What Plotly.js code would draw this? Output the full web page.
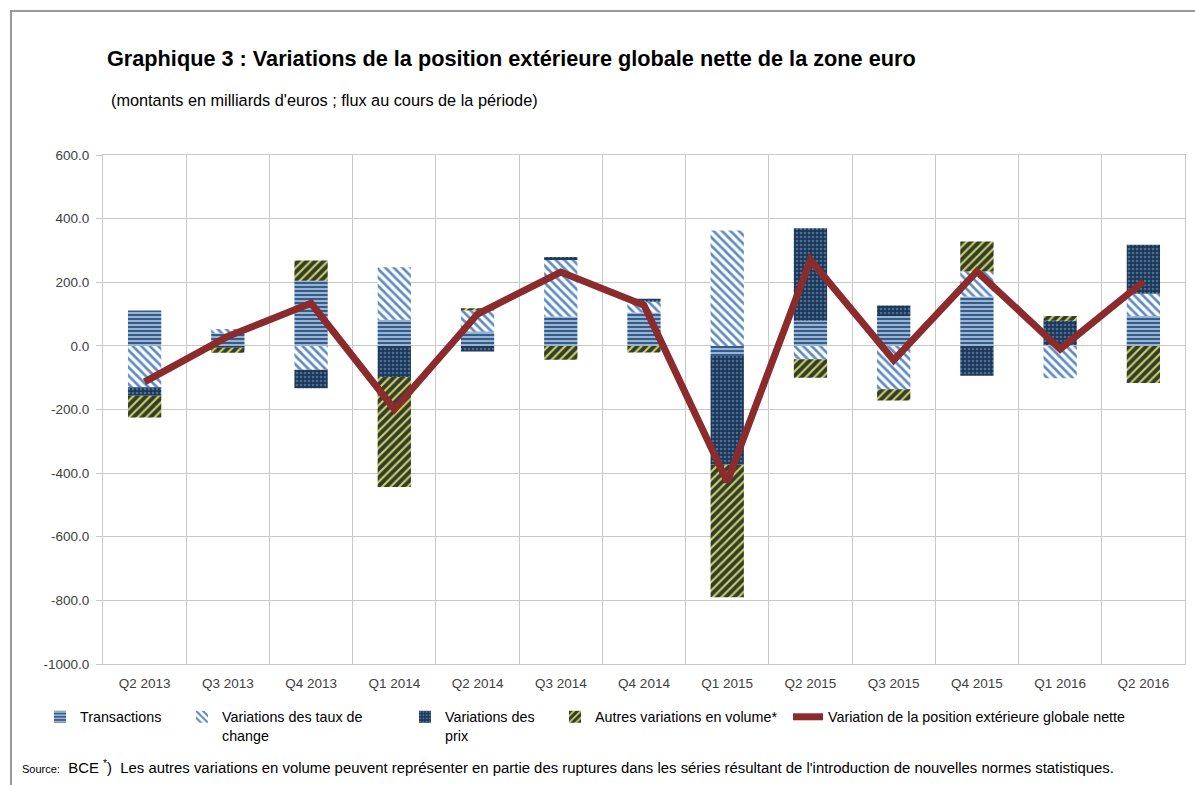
<!DOCTYPE html>
<html>
<head>
<meta charset="utf-8">
<script src="https://cdn.plot.ly/plotly-3.0.1.min.js"></script>
<style>
  body { margin: 0; background: #fff; }
  #frame { position: absolute; left: 10px; top: 10px; width: 1200px; height: 800px; border-left: 2px solid #9a9a9a; border-top: 2px solid #9a9a9a; }
  #chart { position: absolute; left: 0; top: 0; width: 1195px; height: 785px; }
</style>
</head>
<body>
<div id="frame"></div>
<div id="chart"></div>
<script>
const categories = ["Q2 2013","Q3 2013","Q4 2013","Q1 2014","Q2 2014","Q3 2014","Q4 2014","Q1 2015","Q2 2015","Q3 2015","Q4 2015","Q1 2016","Q2 2016"];
const transactions   = [111, 40, 205, 82, 45, 92, 105, -32, 79, 94, 155, 3, 94];
const tauxDeChange   = [-130, 13, -75, 165, 66, 178, 34, 363, -42, -136, 79, -102, 70];
const variationsPrix = [-27, -6, -58, -98, -18, 9, 9, -342, 291, 33, -94, 76, 154];
const autresVolume   = [-68, -16, 63, -346, 7, -44, -21, -416, -58, -36, 94, 15, -117];
const variationNette = [-113, 30, 134, -199, 100, 232, 128, -427, 270, -45, 234, -10, 202];

const yTickVals = [600, 400, 200, 0, -200, -400, -600, -800, -1000];
const yTickText = ["600.0", "400.0", "200.0", "0.0", "-200.0", "-400.0", "-600.0", "-800.0", "-1000.0"];

const seriesNames = ["Transactions", "Variations des taux de<br>change", "Variations des<br>prix", "Autres variations en volume*", "Variation de la position extérieure globale nette"];

const font = "Liberation Sans, Arial, sans-serif";

function barTrace(y, name, legend, bg, fg, shape, size, solidity) {
  return {
    type: "bar", x: categories, y: y, name: name, legend: legend,
    marker: { color: bg, line: { width: 0 },
      pattern: { shape: shape, fgcolor: fg, bgcolor: bg, size: size, solidity: solidity, fillmode: "replace" } },
    hoverinfo: "x+y+name"
  };
}

const traces = [
  barTrace(transactions, seriesNames[0], "legend", "#335d8f", "#e3ecf7", "-", 4, 0.3),
  barTrace(tauxDeChange, seriesNames[1], "legend2", "#ffffff", "#5e8cc4", "\\", 6, 0.45),
  barTrace(variationsPrix, seriesNames[2], "legend3", "#1c3757", "#4b6e96", ".", 4, 0.35),
  barTrace(autresVolume, seriesNames[3], "legend4", "#2e3d3c", "#d8d247", "/", 6, 0.35),
  { type: "scatter", mode: "lines", x: categories, y: variationNette, name: seriesNames[4], legend: "legend5",
    line: { color: "#8c2b2b", width: 7 } }
];

const W = 1082, L = 103, T = 155, H = 509;
function px2x(p) { return (p - L) / W; }
function py2y(p) { return (T + H - p) / H; }
function legendAt(px) {
  return { x: px2x(px), xanchor: "left", y: py2y(701), yanchor: "top", orientation: "h",
    font: { family: font, size: 14.3, color: "#000" }, bgcolor: "rgba(0,0,0,0)", valign: "top",
    itemwidth: 30, borderwidth: 0 };
}

const layout = {
  width: 1195, height: 785,
  margin: { l: L, r: 1195 - L - W, t: T, b: 785 - T - H },
  paper_bgcolor: "rgba(0,0,0,0)", plot_bgcolor: "#ffffff",
  barmode: "relative", bargap: 0.6,
  title: { text: "<b>Graphique 3 : Variations de la position extérieure globale nette de la zone euro</b>",
    xref: "container", yref: "container", x: 107 / 1195, xanchor: "left", y: 1 - 58 / 785, yanchor: "middle",
    font: { family: font, size: 21.7, color: "#000" } },
  xaxis: { type: "category", tickson: "boundaries", showgrid: true, gridcolor: "#c9c9c9", gridwidth: 1,
    showline: true, mirror: true, linecolor: "#c9c9c9", linewidth: 1, ticks: "", ticklabelstandoff: 7,
    tickfont: { family: font, size: 13.5, color: "#404040" }, fixedrange: true },
  yaxis: { range: [-1000, 600], tickvals: yTickVals, ticktext: yTickText, showgrid: true, gridcolor: "#c9c9c9",
    zeroline: false, showline: true, mirror: true, linecolor: "#c9c9c9", ticks: "outside", ticklen: 6, tickcolor: "#c9c9c9",
    tickfont: { family: font, size: 13.5, color: "#404040" }, ticklabelstandoff: 4, fixedrange: true },
  showlegend: true,
  legend: legendAt(40),
  legend2: legendAt(182),
  legend3: legendAt(405),
  legend4: legendAt(555),
  legend5: legendAt(788),
  annotations: [
    { text: "(montants en milliards d'euros ; flux au cours de la période)", xref: "paper", yref: "paper",
      x: px2x(109), y: py2y(100), xanchor: "left", yanchor: "middle", showarrow: false,
      font: { family: font, size: 16.3, color: "#000" } },
    { text: "<span style='font-size:11px'>Source:</span>  BCE <sup>*</sup>)  Les autres variations en volume peuvent représenter en partie des ruptures dans les séries résultant de l'introduction de nouvelles normes statistiques.",
      xref: "paper", yref: "paper", x: px2x(20), y: py2y(767), xanchor: "left", yanchor: "middle", showarrow: false,
      font: { family: font, size: 14.9, color: "#000" } }
  ]
};

Plotly.newPlot("chart", traces, layout, { displayModeBar: false, staticPlot: true });
</script>
</body>
</html>
